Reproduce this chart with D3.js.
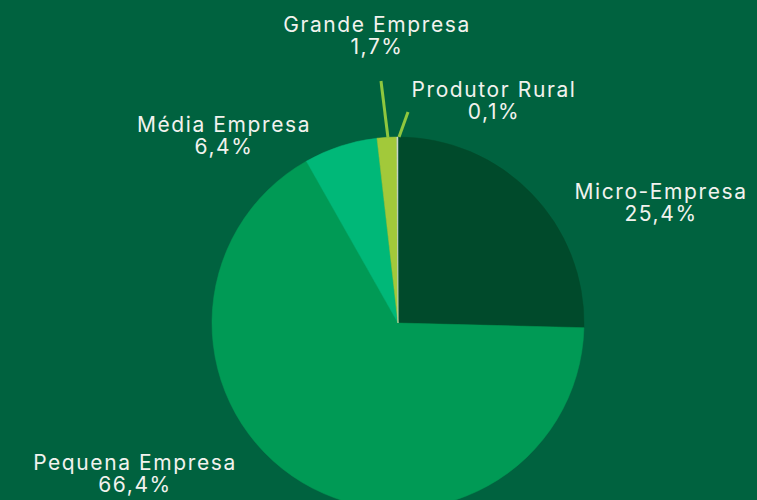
<!DOCTYPE html>
<html>
<head>
<meta charset="utf-8">
<script src="https://cdn.jsdelivr.net/npm/d3@7"></script>
<style>
  html, body { margin: 0; padding: 0; background: #00623f; }
  svg { display: block; }
  text { font-family: "Inter", "Roboto", sans-serif; fill: #f2f2ee; }
</style>
</head>
<body>
<svg id="chart" width="757" height="500"></svg>
<script>
// Data
const categories = ["Micro-Empresa", "Pequena Empresa", "Média Empresa", "Grande Empresa", "Produtor Rural"];
const values = [25.4, 66.4, 6.4, 1.7, 0.1];
const valueLabels = ["25,4%", "66,4%", "6,4%", "1,7%", "0,1%"];
const sliceColors = ["#004a2b", "#009a55", "#00b878", "#a2c93a", "#c9d6cc"];

// Layout (not data)
const labelPos = [[661, 199], [135, 470], [224, 132], [377, 32], [494, 97]];
const leaders = [null, null, null, [[381, 81], [388, 138]], [[408, 112], [399, 137]]];

const W = 757, H = 500;
const cx = 398, cy = 323, R = 186;
const svg = d3.select("#chart");
svg.append("rect").attr("width", W).attr("height", H).attr("fill", "#00623f");

const data = categories.map((c, i) => ({ cat: c, value: values[i], label: valueLabels[i], color: sliceColors[i], i }));
const pie = d3.pie().sort(null).value(d => d.value);
const arc = d3.arc().innerRadius(0).outerRadius(R);

const g = svg.append("g").attr("transform", `translate(${cx},${cy})`);
g.selectAll("path").data(pie(data)).enter().append("path")
  .attr("d", arc)
  .attr("fill", d => d.data.color)
  .attr("stroke", d => d.data.color)
  .attr("stroke-width", 0.5);

// leader lines
data.forEach((d, i) => {
  if (leaders[i]) {
    svg.append("line")
      .attr("x1", leaders[i][0][0]).attr("y1", leaders[i][0][1])
      .attr("x2", leaders[i][1][0]).attr("y2", leaders[i][1][1])
      .attr("stroke", "#8fc73e").attr("stroke-width", 3);
  }
});

// labels
data.forEach((d, i) => {
  const t = svg.append("text")
    .attr("x", labelPos[i][0]).attr("y", labelPos[i][1])
    .attr("text-anchor", "middle")
    .style("font-size", "21px")
    .style("letter-spacing", "1.6px");
  t.append("tspan").attr("x", labelPos[i][0]).text(d.cat);
  t.append("tspan").attr("x", labelPos[i][0]).attr("dy", 22).text(d.label);
});
</script>
</body>
</html>
